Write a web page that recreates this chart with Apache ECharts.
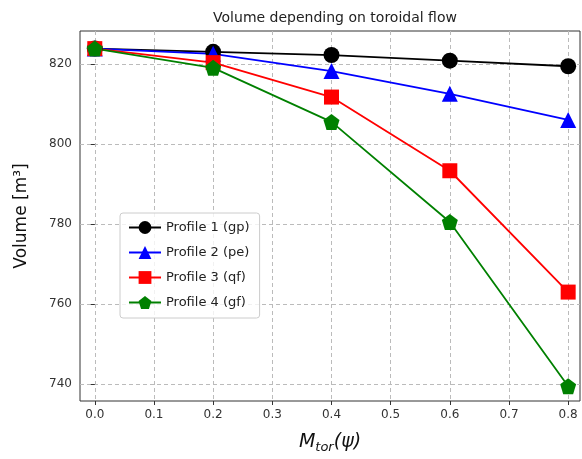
<!DOCTYPE html>
<html>
<head>
<meta charset="utf-8">
<script src="https://cdn.jsdelivr.net/npm/echarts@6/dist/echarts.min.js"></script>
<style>
  html, body { margin: 0; padding: 0; background: #fff; }
  #chart { width: 582px; height: 459px; }
</style>
</head>
<body>
<div id="chart"></div>
<script>
// data
var mtor = [0.0, 0.2, 0.4, 0.6, 0.8];
var profile1 = [823.8, 823.0, 822.2, 820.8, 819.4];
var profile2 = [823.8, 822.5, 818.2, 812.5, 806.0];
var profile3 = [823.8, 820.3, 811.7, 793.3, 763.0];
var profile4 = [823.8, 819.0, 805.5, 780.5, 739.5];
var xTicks = [0.0, 0.1, 0.2, 0.3, 0.4, 0.5, 0.6, 0.7, 0.8];
var yTicks = [740, 760, 780, 800, 820];

var pentagon = 'path://M0,-1 L0.951,-0.309 L0.588,0.809 L-0.588,0.809 L-0.951,-0.309 Z';
var font = 'DejaVu Sans';

function pairs(ys) {
  return mtor.map(function (x, i) { return [x, ys[i]]; });
}

function mkSeries(name, ys, color, symbol, size) {
  return {
    name: name,
    type: 'line',
    data: pairs(ys),
    symbol: symbol,
    symbolSize: size,
    itemStyle: { color: color },
    lineStyle: { color: color, width: 1.8 },
    emphasis: { disabled: true },
    animation: false
  };
}

var myChart = echarts.init(document.getElementById('chart'));
var option = {
  title: {
    text: 'Volume depending on toroidal flow',
    left: 330,
    textAlign: 'center',
    top: 6,
    textStyle: { fontFamily: font, fontSize: 14, fontWeight: 'normal', color: '#222' }
  },
  grid: {
    left: 80, right: 2, top: 31, bottom: 57,
    show: true, borderColor: '#333', borderWidth: 1, backgroundColor: 'transparent'
  },
  legend: {
    orient: 'vertical',
    left: 120, top: 213,
    padding: [8, 10, 9, 8],
    itemGap: 12,
    itemWidth: 32,
    itemHeight: 16,
    borderColor: '#ccc', borderWidth: 1, borderRadius: 3,
    backgroundColor: 'rgba(255,255,255,0.8)',
    textStyle: { fontFamily: font, fontSize: 13, color: '#222' },
    data: ['Profile 1 (gp)', 'Profile 2 (pe)', 'Profile 3 (qf)', 'Profile 4 (gf)']
  },
  xAxis: {
    type: 'value',
    min: -0.025, max: 0.82,
    name: '{m|M}{s|tor}{m|(ψ)}',
    nameLocation: 'middle',
    nameGap: 30,
    nameTextStyle: {
      rich: {
        m: { fontFamily: font, fontSize: 19, fontStyle: 'italic', color: '#111' },
        s: { fontFamily: font, fontSize: 13, fontStyle: 'italic', color: '#111', verticalAlign: 'bottom', padding: [10, 0, 0, 0] }
      }
    },
    axisLine: { show: false },
    axisTick: { show: true, inside: false, length: 4, lineStyle: { color: '#333' }, customValues: xTicks },
    axisLabel: {
      customValues: xTicks, margin: 8,
      fontFamily: font, fontSize: 12, color: '#333',
      formatter: function (v) { return v.toFixed(1); }
    },
    splitLine: { show: true, lineStyle: { color: '#bbb', type: [4, 3], width: 1 } }
  },
  yAxis: {
    type: 'value',
    min: 735.8, max: 828.2,
    name: 'Volume [m³]',
    nameLocation: 'middle',
    nameGap: 50,
    nameTextStyle: { fontFamily: font, fontSize: 17, color: '#111' },
    axisLine: { show: false },
    axisTick: { show: true, inside: false, length: 4, lineStyle: { color: '#333' }, customValues: yTicks },
    axisLabel: { customValues: yTicks, margin: 8, fontFamily: font, fontSize: 12, color: '#333' },
    splitLine: { show: true, lineStyle: { color: '#bbb', type: [4, 3], width: 1 } }
  },
  series: [
    mkSeries('Profile 1 (gp)', profile1, '#000000', 'circle', 16),
    mkSeries('Profile 2 (pe)', profile2, '#0000ff', 'triangle', 16),
    mkSeries('Profile 3 (qf)', profile3, '#ff0000', 'rect', 15),
    mkSeries('Profile 4 (gf)', profile4, '#008000', pentagon, 16)
  ]
};
myChart.setOption(option);
</script>
</body>
</html>
